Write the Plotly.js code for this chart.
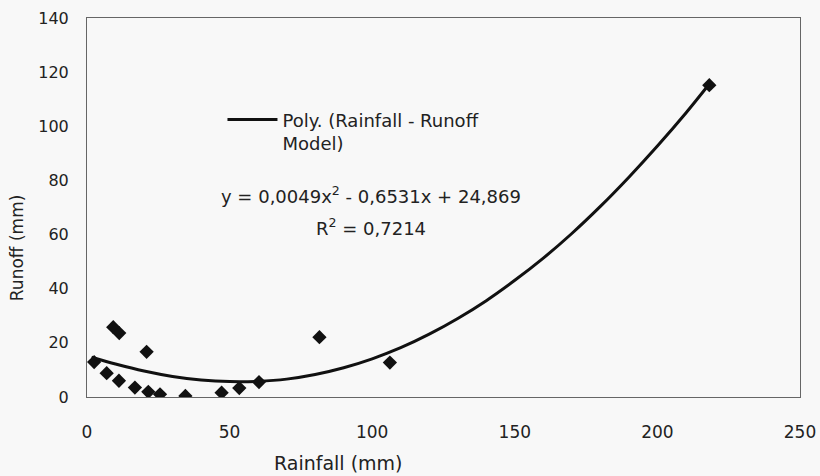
<!DOCTYPE html>
<html>
<head>
<meta charset="utf-8">
<script src="https://cdn.plot.ly/plotly-3.0.1.min.js"></script>
<style>html,body{margin:0;padding:0;background:#f8f8f8;}</style>
</head>
<body>
<div id="chart" style="width:820px;height:476px;"></div>
<script>
// Observed rainfall / runoff pairs (mm)
var rainfall = [2.5, 6.9, 9.2, 11.3, 11.2, 16.8, 20.9, 21.5, 25.6, 34.5, 47.2, 53.4, 60.3, 81.5, 106.2, 218.2];
var runoff   = [12.9, 8.8, 25.8, 23.6, 6.0, 3.5, 16.7, 1.9, 1.0, 0.4, 1.6, 3.3, 5.5, 22.1, 12.7, 115.2];

// Trend curve as drawn in the picture
var trendX = [1.6, 10, 20, 30, 40, 50, 60, 70, 80, 90, 100, 110, 120, 130, 140, 150, 160, 170, 180, 190, 200, 210, 218.2];
var trendY = [14.7, 12.2, 9.6, 7.6, 6.3, 5.7, 5.8, 6.6, 8.3, 10.8, 14.1, 18.2, 23.2, 29.0, 35.6, 43.1, 51.3, 60.4, 70.4, 81.2, 92.7, 104.9, 115.6];

var xTicks = [0, 50, 100, 150, 200, 250];
var yTicks = [0, 20, 40, 60, 80, 100, 120, 140];

var FONT = 'DejaVu Sans, Arial, sans-serif';

var traces = [
  {
    x: rainfall, y: runoff, type: 'scatter', mode: 'markers',
    name: 'Rainfall - Runoff Model', showlegend: false,
    marker: {symbol: 'diamond', size: 11, color: '#111'}
  },
  {
    x: trendX, y: trendY, type: 'scatter', mode: 'lines',
    name: 'Poly. (Rainfall - Runoff<br>Model)',
    line: {color: '#111', width: 3, shape: 'spline', smoothing: 0.8}
  }
];

var layout = {
  width: 820, height: 476,
  margin: {l: 87, r: 20, t: 18, b: 79},
  paper_bgcolor: '#f8f8f8', plot_bgcolor: '#f8f8f8',
  font: {family: FONT, color: '#222', size: 17},
  xaxis: {
    range: [0, 250], tickvals: xTicks, ticktext: xTicks.map(String),
    showgrid: false, zeroline: false, showline: true, mirror: true,
    linecolor: '#666', linewidth: 1, ticks: '',
    tickfont: {family: FONT, size: 17, color: '#222'},
    ticklabelstandoff: 20
  },
  yaxis: {
    range: [0, 140], tickvals: yTicks, ticktext: yTicks.map(String),
    showgrid: false, zeroline: false, showline: true, mirror: true,
    linecolor: '#666', linewidth: 1, ticks: '',
    tickfont: {family: FONT, size: 16, color: '#222'},
    ticklabelstandoff: 14
  },
  showlegend: true,
  legend: {
    x: 0.19, y: 0.78, xanchor: 'left', yanchor: 'top',
    bgcolor: 'rgba(0,0,0,0)', borderwidth: 0,
    font: {family: FONT, size: 18, color: '#222'},
    valign: 'top', itemwidth: 50
  },
  annotations: [
    {xref: 'paper', yref: 'paper', x: 0.398, y: 0.533, xanchor: 'center', yanchor: 'middle',
     showarrow: false, text: 'y = 0,0049x<sup>2</sup> - 0,6531x + 24,869',
     font: {family: FONT, size: 18, color: '#222'}},
    {xref: 'paper', yref: 'paper', x: 0.398, y: 0.449, xanchor: 'center', yanchor: 'middle',
     showarrow: false, text: 'R<sup>2</sup> = 0,7214',
     font: {family: FONT, size: 18, color: '#222'}},
    {xref: 'paper', yref: 'paper', x: 0.353, y: -0.174, xanchor: 'center', yanchor: 'middle',
     showarrow: false, text: 'Rainfall (mm)',
     font: {family: FONT, size: 19, color: '#222'}},
    {xref: 'paper', yref: 'paper', x: -0.098, y: 0.393, xanchor: 'center', yanchor: 'middle',
     showarrow: false, text: 'Runoff (mm)', textangle: -90,
     font: {family: FONT, size: 17, color: '#222'}}
  ]
};

Plotly.newPlot('chart', traces, layout, {displayModeBar: false, staticPlot: true});
</script>
</body>
</html>
